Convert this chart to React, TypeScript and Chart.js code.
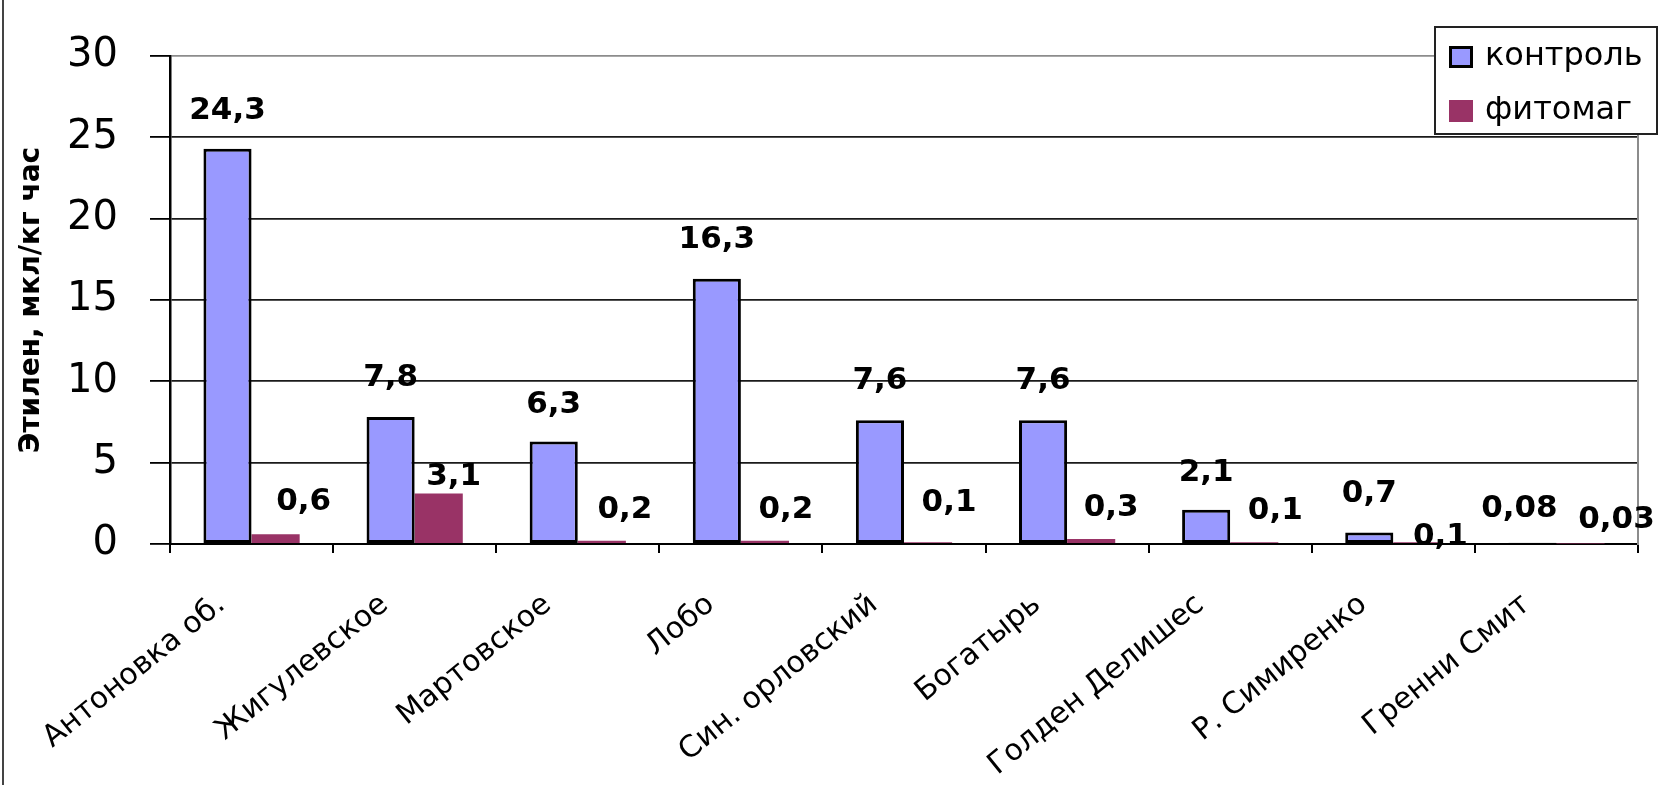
import React, { useEffect, useRef } from "react";
import { Chart, registerables } from "chart.js";

Chart.register(...registerables);

const categories = [
  "Антоновка об.",
  "Жигулевское",
  "Мартовское",
  "Лобо",
  "Син. орловский",
  "Богатырь",
  "Голден Делишес",
  "Р. Симиренко",
  "Гренни Смит",
];
const seriesNames = ["контроль", "фитомаг"];
const controlValues = [24.3, 7.8, 6.3, 16.3, 7.6, 7.6, 2.1, 0.7, 0.08];
const phytomagValues = [0.6, 3.1, 0.2, 0.2, 0.1, 0.3, 0.1, 0.1, 0.03];
const yTickValues = [0, 5, 10, 15, 20, 25, 30];
const yTitle = "Этилен, мкл/кг час";

// value-label nudges (px) as placed in the original
const controlLabelDx = [0, 0, 0, 0, 0, 0, 0, 0, -13];
const controlLabelRise = [38, 39, 37, 39, 39, 39, 37, 39, 34];
const phytomagLabelDx = [28, 15, 23, 21, 21, 20, 21, 23, 36];
const phytomagLabelRise = [32, 17, 31, 31, 39, 31, 31, 5, 24];

const BLUE = "#9999FF";
const MAGENTA = "#993366";
const FONT = "'DejaVu Sans', 'Liberation Sans', Arial, sans-serif";

const W = 1671;
const H = 796;

const fmt = (v: number) => String(v).replace(".", ",");

const valueLabels = {
  id: "valueLabels",
  afterDatasetsDraw(chart: any) {
    const ctx = chart.ctx;
    ctx.save();
    ctx.font = `bold 31px ${FONT}`;
    ctx.fillStyle = "#000";
    ctx.textAlign = "center";
    ctx.textBaseline = "middle";
    chart.data.datasets.forEach((ds: any, di: number) => {
      const meta = chart.getDatasetMeta(di);
      const dx = di === 0 ? controlLabelDx : phytomagLabelDx;
      const rise = di === 0 ? controlLabelRise : phytomagLabelRise;
      meta.data.forEach((bar: any, i: number) => {
        ctx.fillText(fmt(ds.data[i]), bar.x + dx[i], bar.y - rise[i]);
      });
    });
    ctx.restore();
  },
};

const boxLegend = {
  id: "boxLegend",
  afterDraw(chart: any) {
    const ctx = chart.ctx;
    const area = chart.chartArea;
    const bx = area.right - 203;
    const by = area.top - 29;
    const bw = 222;
    const bh = 107;
    ctx.save();
    ctx.fillStyle = "#fff";
    ctx.fillRect(bx, by, bw, bh);
    ctx.strokeStyle = "#222";
    ctx.lineWidth = 2;
    ctx.strokeRect(bx, by, bw, bh);
    ctx.font = `32px ${FONT}`;
    ctx.textAlign = "left";
    ctx.textBaseline = "middle";
    chart.data.datasets.forEach((ds: any, i: number) => {
      const cy = by + 30 + i * 54;
      const sx = bx + 14;
      ctx.fillStyle = ds.backgroundColor;
      ctx.fillRect(sx, cy - 11, 24, 22);
      if (ds.borderWidth > 0) {
        ctx.strokeStyle = "#000";
        ctx.lineWidth = 3;
        ctx.strokeRect(sx + 1.5, cy - 9.5, 21, 19);
      }
      ctx.fillStyle = "#000";
      ctx.fillText(ds.label, bx + 50, cy);
    });
    ctx.restore();
  },
};

export default function App() {
  const ref = useRef<HTMLCanvasElement | null>(null);

  useEffect(() => {
    if (!ref.current) return;
    const chart = new Chart(ref.current, {
      type: "bar",
      data: {
        labels: categories,
        datasets: [
          {
            label: seriesNames[0],
            data: controlValues,
            backgroundColor: BLUE,
            borderColor: "#000",
            borderWidth: 3,
            borderSkipped: false,
            categoryPercentage: 0.59,
            barPercentage: 1.0,
          },
          {
            label: seriesNames[1],
            data: phytomagValues,
            backgroundColor: MAGENTA,
            borderColor: MAGENTA,
            borderWidth: 0,
            categoryPercentage: 0.59,
            barPercentage: 1.0,
          },
        ],
      },
      options: {
        responsive: false,
        animation: false,
        devicePixelRatio: 1,
        layout: { padding: { top: 42, left: 0, right: 0, bottom: 0 } },
        plugins: {
          legend: { display: false },
          tooltip: { enabled: false },
        },
        scales: {
          x: {
            afterFit: (s: any) => {
              s.height = 252;
            },
            grid: {
              display: true,
              drawOnChartArea: false,
              drawTicks: true,
              tickLength: 9,
              color: "#000",
              lineWidth: 2,
              offset: true,
            },
            border: { display: true, color: "#000", width: 2 },
            ticks: {
              autoSkip: false,
              minRotation: 39,
              maxRotation: 39,
              padding: 34,
              labelOffset: -30,
              color: "#000",
              font: { family: FONT, size: 30 },
            },
          },
          y: {
            min: 0,
            max: 30,
            afterFit: (s: any) => {
              s.width = 170;
            },
            afterBuildTicks: (s: any) => {
              s.ticks = yTickValues.map((v) => ({ value: v }));
            },
            grid: {
              color: (c: any) => (c.tick && c.tick.value === 30 ? "#8c8c8c" : "#1a1a1a"),
              tickColor: "#000",
              lineWidth: 1.8,
              tickLength: 20,
              drawTicks: true,
            },
            border: { display: true, color: "#000", width: 2.5 },
            ticks: {
              padding: 32,
              color: "#000",
              font: { family: FONT, size: 40 },
              callback: (v: any) => String(v),
            },
            title: {
              display: true,
              text: yTitle,
              color: "#000",
              font: { family: FONT, size: 28, weight: "bold" },
              padding: { top: 15, bottom: 0 },
            },
          },
          y2: {
            position: "right",
            min: 0,
            max: 30,
            afterFit: (s: any) => {
              s.width = W - 1638;
            },
            grid: { drawOnChartArea: false, drawTicks: false },
            border: { display: true, color: "#8c8c8c", width: 2 },
            ticks: { display: false },
          },
        },
      },
      plugins: [valueLabels, boxLegend],
    });
    return () => chart.destroy();
  }, []);

  return (
    <div
      style={{
        position: "fixed",
        left: 0,
        top: 0,
        width: W,
        height: H,
        background: "#fff",
        overflow: "hidden",
      }}
    >
      <canvas ref={ref} width={W} height={H} style={{ width: W, height: H, display: "block" }} />
      <div
        style={{
          position: "absolute",
          left: 2,
          top: 0,
          width: 2,
          height: 785,
          background: "#444",
        }}
      />
    </div>
  );
}
